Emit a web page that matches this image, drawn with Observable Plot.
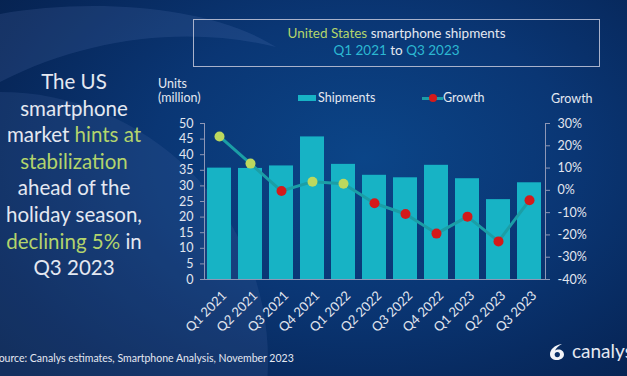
<!DOCTYPE html>
<html><head><meta charset="utf-8">
<script src="https://cdn.jsdelivr.net/npm/d3@7"></script>
<script src="https://cdn.jsdelivr.net/npm/@observablehq/plot@0.6"></script>
<style>
html,body{margin:0;padding:0;width:627px;height:376px;overflow:hidden;background:#072655;}
#page{position:relative;width:627px;height:376px;overflow:hidden;font-family:Lato,"Open Sans",sans-serif;color:#e4e8f1;
background: radial-gradient(ellipse 75% 85% at 58% 42%, #0b4588 0%, #0a3674 45%, #07275a 80%, #06214c 100%);}
.abs{position:absolute;white-space:nowrap;}
#circ{position:absolute;left:-268px;top:92px;width:536px;height:536px;border-radius:50%;background:rgba(70,100,160,0.22);}
#chart{position:absolute;left:0;top:0;}
.g{color:#b3d46c;}
.c{color:#2cb8d2;}
</style></head>
<body><div id="page">
<svg class="abs" style="left:0;top:0" width="627" height="376"><path d="M0,14 C90,-2 210,5 276,47 C190,26 90,36 0,82 Z" fill="rgba(120,150,210,0.14)"/></svg>
<div id="circ"></div>
<div class="abs" style="left:193px;top:19px;width:405px;height:46px;border:1px solid #a9b2cb;text-align:center;font-size:13.5px;line-height:17px;">
  <div style="margin-top:5px"><span class="g">United States</span> smartphone shipments</div>
  <div><span class="c">Q1 2021</span> to <span class="c">Q3 2023</span></div>
</div>
<div class="abs" style="left:0;top:68px;width:148px;text-align:center;font-size:20.5px;line-height:26.6px;">
The US<br>smartphone<br>market <span class="g">hints at</span><br><span class="g">stabilization</span><br>ahead of the<br>holiday season,<br><span class="g">declining 5%</span> in<br>Q3 2023
</div>
<div class="abs" style="left:158px;top:77px;font-size:12.5px;line-height:14px;">Units<br>(million)</div>
<div class="abs" style="left:298px;top:95px;width:18px;height:6px;background:#17b3c5;"></div>
<div class="abs" style="left:318px;top:90px;font-size:12.5px;">Shipments</div>
<div class="abs" style="left:422px;top:96.5px;width:21px;height:3px;background:#1b9ea6;"></div>
<div class="abs" style="left:429px;top:94px;width:8px;height:8px;border-radius:50%;background:#d41a1a;"></div>
<div class="abs" style="left:443px;top:90px;font-size:12.5px;">Growth</div>
<div class="abs" style="left:551px;top:91px;font-size:12.5px;">Growth</div>
<div class="abs" style="left:-7px;top:352px;font-size:10.5px;">Source: Canalys estimates, Smartphone Analysis, November 2023</div>
<svg class="abs" style="left:548px;top:343px" width="20" height="18" viewBox="0 0 20 18"><path d="M14 1 C6 2 2 7 2 11 C2 15 5 17 9 17 C13 17 16 14.5 16 11.5 C16 8.5 13.5 6.5 10.5 6.5 C9 6.5 7.8 7 7 7.6 C8.5 4.5 11 2.6 14 1 Z" fill="#f2f4f8"/><circle cx="9.3" cy="11.6" r="2.6" fill="#0a3068"/></svg>
<div class="abs" style="left:572px;top:339px;font-size:19px;">canalys</div>
</div>
<script>
const quarters = ["Q1 2021","Q2 2021","Q3 2021","Q4 2021","Q1 2022","Q2 2022","Q3 2022","Q4 2022","Q1 2023","Q2 2023","Q3 2023"];
const shipments = [35.7,35.6,36.4,45.7,36.9,33.4,32.6,36.6,32.3,25.6,31.0];
const growth = [24.2,12.0,-0.3,3.9,3.0,-5.8,-10.6,-19.4,-11.8,-22.9,-4.4];
const unitTicks = [0,5,10,15,20,25,30,35,40,45,50];
const growthTicks = [-40,-30,-20,-10,0,10,20,30];

const toY = g => (g + 40) * 50 / 70;
const fromY = v => Math.round(v * 70 / 50 - 40);
const data = quarters.map((q, i) => ({q, s: shipments[i], g: growth[i]}));
const axisCol = "#8e97b6";
const txtCol = "#e2e6ef";

const chart = Plot.plot({
  width: 627, height: 376,
  marginLeft: 204, marginRight: 82, marginTop: 123, marginBottom: 97,
  style: {background: "transparent", color: txtCol, fontFamily: "Lato, sans-serif", overflow: "visible"},
  x: {domain: quarters, type: "band", paddingInner: 0.22, paddingOuter: 0.1, axis: null},
  y: {domain: [0, 50], axis: null},
  marks: [
    Plot.barY(data, {x: "q", y: "s", fill: "#17b3c5"}),
    Plot.frame({anchor: "left", stroke: axisCol}),
    Plot.frame({anchor: "right", stroke: axisCol}),
    Plot.frame({anchor: "bottom", stroke: axisCol}),
    Plot.line(data, {x: "q", y: d => toY(d.g), stroke: "#1b9ea6", strokeWidth: 3}),
    Plot.dot(data, {x: "q", y: d => toY(d.g), r: 5, fill: d => d.g >= 0 ? "#bcd85e" : "#d41a1a", stroke: "none"}),
    Plot.axisY(unitTicks, {anchor: "left", tickSize: 4, tickPadding: 7, stroke: axisCol, fill: txtCol, fontSize: 12.5, label: null}),
    Plot.axisY(growthTicks.map(toY), {anchor: "right", tickSize: 4, tickPadding: 8, stroke: axisCol, fill: txtCol, fontSize: 12.5, tickFormat: v => fromY(v) + "%", label: null}),
    Plot.text(quarters, {x: d => d, y: 0, rotate: -45, textAnchor: "end", dx: 5, dy: 14, fill: txtCol, fontSize: 13})
  ]
});
chart.id = "chart";
document.getElementById("page").appendChild(chart);
</script>
</body></html>
